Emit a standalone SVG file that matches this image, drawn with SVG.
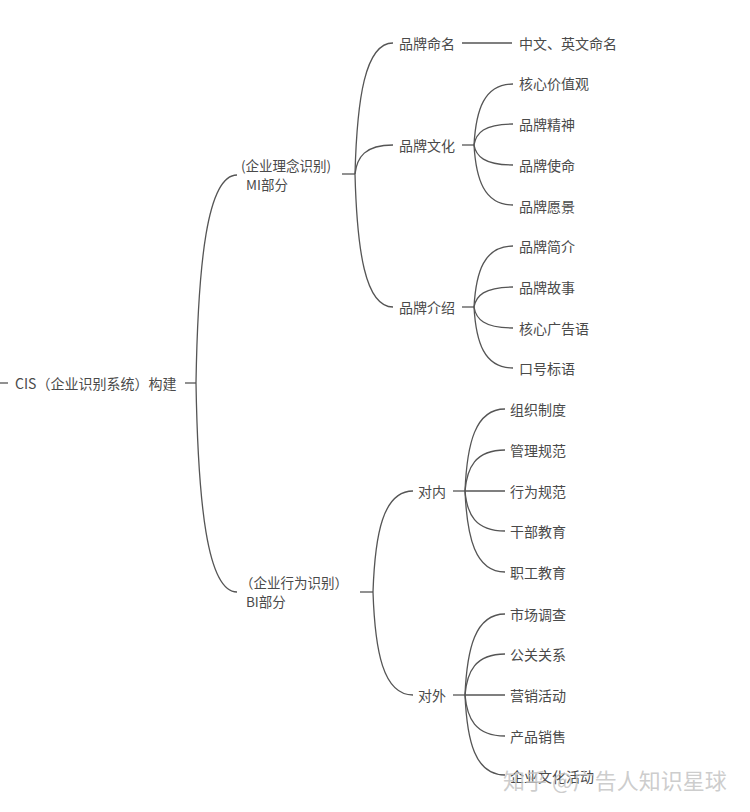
<svg xmlns="http://www.w3.org/2000/svg" width="750" height="812" viewBox="0 0 750 812">
<style>
text{font-family:"Noto Sans CJK SC","Liberation Sans",sans-serif;font-size:14px;fill:#4a4a4a;dominant-baseline:central}
.two{font-size:13.5px}
.c path,.c line{fill:none;stroke:#555;stroke-width:1.3}
.wm{font-size:22px;fill:#c4c4c4;fill-opacity:0.85}
</style>
<rect width="750" height="812" fill="#fff"/>
<g class="c" id="connectors">
<line x1="0" y1="383" x2="8" y2="383"/>
<line x1="185" y1="383" x2="196" y2="383"/>
<path d="M196,383 C198,264 207,175 237,175"/>
<path d="M196,383 C198,502 207,592 237,592"/>
<line x1="342" y1="174" x2="355" y2="174"/>
<path d="M355,174 C357,99 365,43 393,43"/>
<path d="M355,174 C357,157 365,145 393,145"/>
<path d="M355,174 C357,250 365,307 393,307"/>
<line x1="462" y1="43" x2="512" y2="43"/>
<line x1="462" y1="145" x2="474" y2="145"/>
<path d="M474,145 C476,110 484,84 513,84"/>
<path d="M474,145 C476,133 484,124 513,124"/>
<path d="M474,145 C476,156 484,165 513,165"/>
<path d="M474,145 C476,179 484,205 513,205"/>
<line x1="462" y1="307" x2="474" y2="307"/>
<path d="M474,307 C476,272 484,246 513,246"/>
<path d="M474,307 C476,296 484,287 513,287"/>
<path d="M474,307 C476,319 484,328 513,328"/>
<path d="M474,307 C476,342 484,368 513,368"/>
<line x1="360" y1="592" x2="373" y2="592"/>
<path d="M373,592 C375,534 383,491 413,491"/>
<path d="M373,592 C375,651 383,695 413,695"/>
<line x1="453" y1="491" x2="465" y2="491"/>
<path d="M465,491 C467,444 475,409 505,409"/>
<path d="M465,491 C467,468 475,450 505,450"/>
<line x1="465" y1="491" x2="505" y2="491"/>
<path d="M465,491 C467,514 475,531 505,531"/>
<path d="M465,491 C467,537 475,572 505,572"/>
<line x1="453" y1="695" x2="465" y2="695"/>
<path d="M465,695 C467,649 475,614 505,614"/>
<path d="M465,695 C467,672 475,654 505,654"/>
<line x1="465" y1="695" x2="505" y2="695"/>
<path d="M465,695 C467,718 475,736 505,736"/>
<path d="M465,695 C467,741 475,775 505,775"/>
</g>
<g id="root"><text x="15" y="383">CIS（企业识别系统）构建</text></g>
<g id="mi"><text class="two" x="241" y="165">(企业理念识别)</text><text class="two" x="246" y="184">MI部分</text></g>
<g id="bi"><text class="two" x="240" y="582">（企业行为识别）</text><text class="two" x="246" y="601">BI部分</text></g>
<g id="n-mingming"><text x="399" y="43">品牌命名</text></g>
<g id="n-zhongying"><text x="519" y="43">中文、英文命名</text></g>
<g id="n-wenhua"><text x="399" y="145">品牌文化</text></g>
<g id="n-hexin"><text x="519" y="83">核心价值观</text></g>
<g id="n-jingshen"><text x="519" y="124">品牌精神</text></g>
<g id="n-shiming"><text x="519" y="165">品牌使命</text></g>
<g id="n-yuanjing"><text x="519" y="206">品牌愿景</text></g>
<g id="n-jieshao"><text x="399" y="307">品牌介绍</text></g>
<g id="n-jianjie"><text x="519" y="246">品牌简介</text></g>
<g id="n-gushi"><text x="519" y="287">品牌故事</text></g>
<g id="n-guanggao"><text x="519" y="328">核心广告语</text></g>
<g id="n-kouhao"><text x="519" y="368">口号标语</text></g>
<g id="n-duinei"><text x="418" y="491">对内</text></g>
<g id="n-zuzhi"><text x="510" y="409">组织制度</text></g>
<g id="n-guanli"><text x="510" y="450">管理规范</text></g>
<g id="n-xingwei"><text x="510" y="491">行为规范</text></g>
<g id="n-ganbu"><text x="510" y="531">干部教育</text></g>
<g id="n-zhigong"><text x="510" y="572">职工教育</text></g>
<g id="n-duiwai"><text x="418" y="695">对外</text></g>
<g id="n-shichang"><text x="510" y="614">市场调查</text></g>
<g id="n-gongguan"><text x="510" y="654">公关关系</text></g>
<g id="n-yingxiao"><text x="510" y="695">营销活动</text></g>
<g id="n-chanpin"><text x="510" y="736">产品销售</text></g>
<g id="n-qiye"><text x="510" y="776">企业文化活动</text></g>
<text class="wm" x="503" y="779">知乎 @广告人知识星球</text>
</svg>
